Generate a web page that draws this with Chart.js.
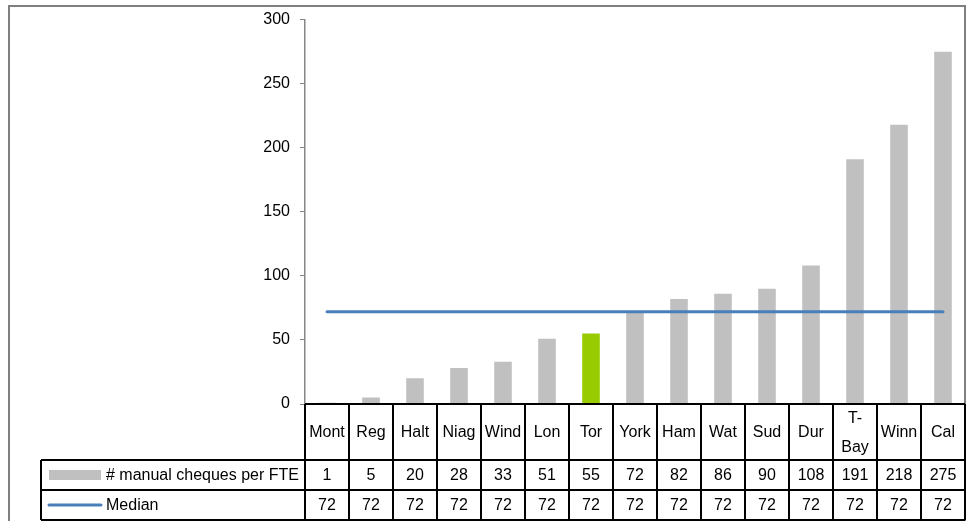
<!DOCTYPE html>
<html>
<head>
<meta charset="utf-8">
<script src="https://cdn.jsdelivr.net/npm/chart.js@4/dist/chart.umd.min.js"></script>
<style>
  html, body { margin: 0; padding: 0; background: #ffffff; }
  #wrap { width: 967px; height: 521px; }
</style>
</head>
<body>
<div id="wrap"><canvas id="c" width="967" height="521"></canvas></div>
<script>
// Manual cheques processed per FTE, by office, sorted ascending
const categories = ['Mont', 'Reg', 'Halt', 'Niag', 'Wind', 'Lon', 'Tor', 'York', 'Ham', 'Wat', 'Sud', 'Dur', ['T-', 'Bay'], 'Winn', 'Cal'];
const chequesPerFte = [1, 5, 20, 28, 33, 51, 55, 72, 82, 86, 90, 108, 191, 218, 275];
const medianValues = [72, 72, 72, 72, 72, 72, 72, 72, 72, 72, 72, 72, 72, 72, 72];
const yTicks = [0, 50, 100, 150, 200, 250, 300];
const seriesNames = ['# manual cheques per FTE', 'Median'];
const highlighted = 'Tor';

const BAR_GREY = '#c0c0c0';
const HIGHLIGHT = '#99cc00';
const MEDIAN_BLUE = '#4a7ebb';
const FONT = '"Liberation Sans", Arial, sans-serif';
const FONT_SIZE = 16;

const barColors = categories.map(c => (c === highlighted ? HIGHLIGHT : BAR_GREY));

// Outer frame around the whole chart object
const framePlugin = {
  id: 'frame',
  beforeDraw(chart) {
    const ctx = chart.ctx;
    ctx.save();
    ctx.fillStyle = '#ffffff';
    ctx.fillRect(0, 0, chart.width, chart.height);
    ctx.strokeStyle = '#7f7f7f';
    ctx.lineWidth = 2;
    ctx.strokeRect(9, 6, 956, 530);
    ctx.restore();
  }
};

// Data table under the plot: category row, value row, median row
const dataTablePlugin = {
  id: 'dataTable',
  afterDraw(chart) {
    const ctx = chart.ctx;
    const x = chart.scales.x;
    const area = chart.chartArea;
    const n = categories.length;
    const top = area.bottom;
    const row1 = top + 56;
    const row2 = row1 + 30;
    const row3 = row2 + 30;
    const tableLeft = 41;

    const centers = categories.map((_, i) => x.getPixelForValue(i));
    const bounds = [area.left];
    for (let i = 1; i < n; i++) bounds.push((centers[i - 1] + centers[i]) / 2);
    bounds.push(area.right);

    ctx.save();
    ctx.strokeStyle = '#000000';
    ctx.lineWidth = 2;
    ctx.beginPath();
    // horizontal rules
    ctx.moveTo(area.left, Math.round(top)); ctx.lineTo(area.right, Math.round(top));
    ctx.moveTo(tableLeft, row1); ctx.lineTo(area.right, row1);
    ctx.moveTo(tableLeft, row2); ctx.lineTo(area.right, row2);
    ctx.moveTo(tableLeft, row3); ctx.lineTo(area.right, row3);
    // vertical rules
    bounds.forEach(b => {
      const bx = Math.round(b);
      ctx.moveTo(bx, top); ctx.lineTo(bx, row3);
    });
    ctx.moveTo(tableLeft, row1); ctx.lineTo(tableLeft, row3);
    ctx.stroke();

    ctx.fillStyle = '#000000';
    ctx.font = FONT_SIZE + 'px ' + FONT;
    ctx.textAlign = 'center';
    ctx.textBaseline = 'middle';
    categories.forEach((c, i) => {
      const lines = Array.isArray(c) ? c : [c];
      const mid = (top + row1) / 2 + 1;
      const lh = 29;
      lines.forEach((ln, k) => {
        ctx.fillText(ln, centers[i], mid + (k - (lines.length - 1) / 2) * lh);
      });
      ctx.fillText(String(chequesPerFte[i]), centers[i], (row1 + row2) / 2 + 1);
      ctx.fillText(String(medianValues[i]), centers[i], (row2 + row3) / 2 + 1);
    });

    // legend keys in the row headers
    ctx.fillStyle = BAR_GREY;
    ctx.fillRect(49, row1 + 10, 52, 10);
    ctx.strokeStyle = MEDIAN_BLUE;
    ctx.lineWidth = 3;
    ctx.lineCap = 'round';
    ctx.beginPath();
    ctx.moveTo(49, (row2 + row3) / 2);
    ctx.lineTo(101, (row2 + row3) / 2);
    ctx.stroke();

    ctx.fillStyle = '#000000';
    ctx.textAlign = 'left';
    ctx.fillText(seriesNames[0], 106, (row1 + row2) / 2 + 1);
    ctx.fillText(seriesNames[1], 106, (row2 + row3) / 2 + 1);
    ctx.restore();
  }
};

new Chart(document.getElementById('c'), {
  data: {
    labels: categories,
    datasets: [
      {
        type: 'line',
        label: seriesNames[1],
        data: medianValues,
        borderColor: MEDIAN_BLUE,
        borderWidth: 3,
        borderCapStyle: 'round',
        pointRadius: 0,
        fill: false,
        order: 0
      },
      {
        type: 'bar',
        label: seriesNames[0],
        data: chequesPerFte,
        backgroundColor: barColors,
        categoryPercentage: 1,
        barPercentage: 0.4,
        order: 1
      }
    ]
  },
  options: {
    responsive: false,
    animation: false,
    events: [],
    layout: { padding: { left: 0, right: 2, top: 17, bottom: 117 } },
    plugins: { legend: { display: false }, tooltip: { enabled: false } },
    scales: {
      x: { type: 'category', offset: true, display: false },
      y: {
        min: 0,
        max: 300,
        afterFit(scale) { scale.width = 305; },
        afterBuildTicks(scale) { scale.ticks = yTicks.map(v => ({ value: v })); },
        border: { display: true, color: '#868686', width: 1.5 },
        grid: { drawOnChartArea: false, drawTicks: true, tickLength: 5, color: '#868686', lineWidth: 1 },
        ticks: { color: '#000000', font: { family: FONT, size: FONT_SIZE }, padding: 10 }
      }
    }
  },
  plugins: [framePlugin, dataTablePlugin]
});
</script>
</body>
</html>
